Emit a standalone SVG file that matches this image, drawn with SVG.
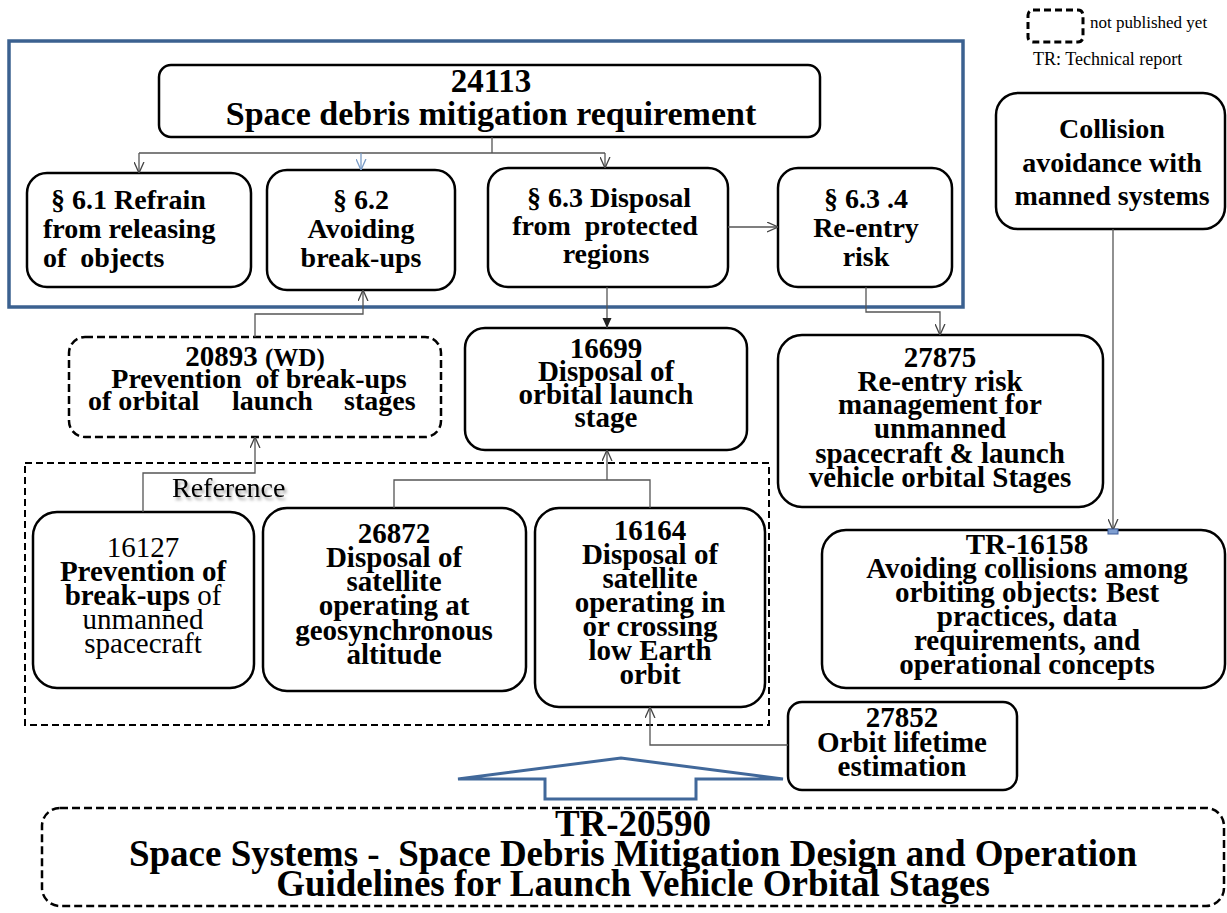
<svg xmlns="http://www.w3.org/2000/svg" width="1227" height="913" viewBox="0 0 1227 913">
<style>
.box{fill:#fff;stroke:#000;stroke-width:2.5}
.dash{fill:#fff;stroke:#000;stroke-width:2.5;stroke-dasharray:8 4}
.t{font-family:"Liberation Serif","Times New Roman",serif;font-weight:bold;fill:#000;text-anchor:middle}
.n{font-family:"Liberation Serif","Times New Roman",serif;font-weight:normal;fill:#000}
.c{fill:none;stroke:#555;stroke-width:1.3}
</style>
<defs>
<marker id="open" viewBox="0 0 10 10" refX="10" refY="5" markerWidth="11" markerHeight="11" markerUnits="userSpaceOnUse" orient="auto"><path d="M0,0.5 L10,5 L0,9.5" fill="none" stroke="#444" stroke-width="1.2"/></marker>
<marker id="openb" viewBox="0 0 10 10" refX="10" refY="5" markerWidth="11" markerHeight="11" markerUnits="userSpaceOnUse" orient="auto"><path d="M0,0.5 L10,5 L0,9.5" fill="none" stroke="#7a9cc6" stroke-width="1.2"/></marker>
<marker id="fill" viewBox="0 0 10 10" refX="10" refY="5" markerWidth="10" markerHeight="10" markerUnits="userSpaceOnUse" orient="auto"><path d="M0,0.5 L10,5 L0,9.5 z" fill="#222"/></marker>
<filter id="sh" x="-10%" y="-20%" width="130%" height="160%"><feDropShadow dx="2" dy="3" stdDeviation="1.5" flood-color="#000" flood-opacity="0.35"/></filter>
</defs>

<g id="legend">
<rect x="1028" y="10" width="55" height="32" rx="5" fill="none" stroke="#000" stroke-width="3" stroke-dasharray="7 4"/>
<text class="n" x="1090" y="28" font-size="17">not published yet</text>
<text class="n" x="1033" y="65" font-size="18">TR: Technical report</text>
</g>

<g id="group-24113">
<rect x="9" y="41" width="954" height="266" fill="none" stroke="#3b6190" stroke-width="3.5"/>
</g>

<g id="n24113">
<rect class="box" x="159" y="65" width="661" height="72" rx="12"/>
<text class="t" x="491" y="92" font-size="33">24113</text>
<text class="t" x="491" y="125" font-size="34">Space debris mitigation requirement</text>
</g>

<g id="s61">
<rect class="box" x="27" y="173" width="224" height="114" rx="20"/>
<text class="t" font-size="28" style="text-anchor:start" xml:space="preserve"><tspan x="51" y="209">§ 6.1 Refrain</tspan><tspan x="43" y="238">from releasing</tspan><tspan x="43" y="267">of  objects</tspan></text>
</g>

<g id="s62">
<rect class="box" x="267" y="170" width="188" height="120" rx="20"/>
<text class="t" font-size="28"><tspan x="361" y="209">§ 6.2</tspan><tspan x="361" y="238">Avoiding</tspan><tspan x="361" y="267">break-ups</tspan></text>
</g>

<g id="s63">
<rect class="box" x="488" y="168" width="240" height="119" rx="20"/>
<text class="t" font-size="28" xml:space="preserve"><tspan x="609" y="207">§ 6.3 Disposal</tspan><tspan x="605" y="235">from  protected</tspan><tspan x="606" y="263">regions</tspan></text>
</g>

<g id="s634">
<rect class="box" x="778" y="168" width="174" height="119" rx="20"/>
<text class="t" font-size="28"><tspan x="866" y="208">§ 6.3 .4</tspan><tspan x="866" y="237">Re-entry</tspan><tspan x="866" y="266">risk</tspan></text>
</g>

<g id="collision">
<rect class="box" x="996" y="93" width="229" height="136" rx="22"/>
<text class="t" font-size="28"><tspan x="1112" y="138">Collision</tspan><tspan x="1112" y="172">avoidance with</tspan><tspan x="1112" y="205">manned systems</tspan></text>
</g>

<g id="n20893">
<rect class="dash" x="69" y="337" width="372" height="100" rx="16"/>
<text class="t" font-size="29" x="255" y="366">20893 <tspan font-size="25">(WD)</tspan></text>
<text class="t" font-size="28" x="259" y="388" xml:space="preserve">Prevention  of break-ups</text>
<text class="t" font-size="28" style="text-anchor:start"><tspan x="88" y="410">of orbital</tspan><tspan x="232" y="410">launch</tspan><tspan x="344" y="410">stages</tspan></text>
</g>

<g id="n16699">
<rect class="box" x="465" y="328" width="282" height="122" rx="20"/>
<text class="t" font-size="29"><tspan x="606" y="358">16699</tspan><tspan x="606" y="381">Disposal of</tspan><tspan x="606" y="404">orbital launch</tspan><tspan x="606" y="427">stage</tspan></text>
</g>

<g id="n27875">
<rect class="box" x="778" y="335" width="325" height="172" rx="24"/>
<text class="t" font-size="29"><tspan x="940" y="367">27875</tspan><tspan x="940" y="391">Re-entry risk</tspan><tspan x="940" y="414">management for</tspan><tspan x="940" y="438">unmanned</tspan><tspan x="940" y="463">spacecraft &amp; launch</tspan><tspan x="940" y="487">vehicle orbital Stages</tspan></text>
</g>

<g id="reference">
<rect x="25" y="463" width="744" height="262" fill="none" stroke="#000" stroke-width="2" stroke-dasharray="7 4"/>
<text class="n" x="172" y="497" font-size="28" filter="url(#sh)">Reference</text>
</g>

<g id="n16127">
<rect class="box" x="33" y="512" width="221" height="176" rx="24"/>
<text class="n" font-size="29" text-anchor="middle"><tspan x="143" y="557">16127</tspan><tspan x="143" y="581" font-weight="bold">Prevention of</tspan><tspan x="143" y="605"><tspan font-weight="bold">break-ups</tspan> of</tspan><tspan x="143" y="629">unmanned</tspan><tspan x="143" y="653">spacecraft</tspan></text>
</g>

<g id="n26872">
<rect class="box" x="263" y="508" width="263" height="183" rx="24"/>
<text class="t" font-size="29"><tspan x="394" y="543">26872</tspan><tspan x="394" y="567">Disposal of</tspan><tspan x="394" y="591">satellite</tspan><tspan x="394" y="615">operating at</tspan><tspan x="394" y="640">geosynchronous</tspan><tspan x="394" y="664">altitude</tspan></text>
</g>

<g id="n16164">
<rect class="box" x="535" y="508" width="230" height="199" rx="24"/>
<text class="t" font-size="29"><tspan x="650" y="540">16164</tspan><tspan x="650" y="564">Disposal of</tspan><tspan x="650" y="588">satellite</tspan><tspan x="650" y="612">operating in</tspan><tspan x="650" y="636">or crossing</tspan><tspan x="650" y="660">low Earth</tspan><tspan x="650" y="684">orbit</tspan></text>
</g>

<g id="tr16158">
<rect class="box" x="822" y="530" width="403" height="158" rx="24"/>
<text class="t" font-size="29"><tspan x="1027" y="554">TR-16158</tspan><tspan x="1027" y="578">Avoiding collisions among</tspan><tspan x="1027" y="602">orbiting objects:  Best</tspan><tspan x="1027" y="626">practices, data</tspan><tspan x="1027" y="650">requirements, and</tspan><tspan x="1027" y="674">operational concepts</tspan></text>
</g>

<g id="n27852">
<rect class="box" x="788" y="702" width="229" height="88" rx="14"/>
<text class="t" font-size="29"><tspan x="902" y="727">27852</tspan><tspan x="902" y="752">Orbit lifetime</tspan><tspan x="902" y="776">estimation</tspan></text>
</g>

<g id="big-arrow">
<polygon points="458,779 621,758 783,779 696,779 696,799 545,799 545,779" fill="#fff" stroke="#41689a" stroke-width="3" stroke-linejoin="miter"/>
</g>

<g id="tr20590">
<rect class="dash" x="42" y="808" width="1182" height="98" rx="18"/>
<text class="t" font-size="37" xml:space="preserve"><tspan x="633" y="836">TR-20590</tspan><tspan x="633" y="866">Space Systems -  Space Debris Mitigation Design and Operation</tspan><tspan x="633" y="896">Guidelines for Launch Vehicle Orbital Stages</tspan></text>
</g>

<g id="connectors">
<path class="c" d="M492,137 V153 M139,153 H605"/>
<path class="c" d="M139,153 V173" marker-end="url(#open)"/>
<path class="c" d="M361,153 V170" marker-end="url(#openb)" style="stroke:#7a9cc6"/>
<path class="c" d="M605,153 V168" marker-end="url(#open)"/>
<path class="c" d="M728,227 H778" marker-end="url(#open)"/>
<path class="c" d="M607,287 V328" marker-end="url(#fill)"/>
<path class="c" d="M866,287 V312 H940 V335" marker-end="url(#open)"/>
<path class="c" d="M255,337 V314 H363 V290" marker-end="url(#open)"/>
<path class="c" d="M1113,229 V530" marker-end="url(#open)"/>
<rect x="1108" y="529" width="10" height="5" fill="#7f9ed0" stroke="#3b5b9a" stroke-width="1"/>
<path class="c" d="M143,512 V473 H255 V437" marker-end="url(#open)"/>
<path class="c" d="M394,508 V480 H650 V508"/>
<path class="c" d="M607,480 V450" marker-end="url(#open)"/>
<path class="c" d="M788,745 H650 V707" marker-end="url(#open)"/>
</g>
</svg>
